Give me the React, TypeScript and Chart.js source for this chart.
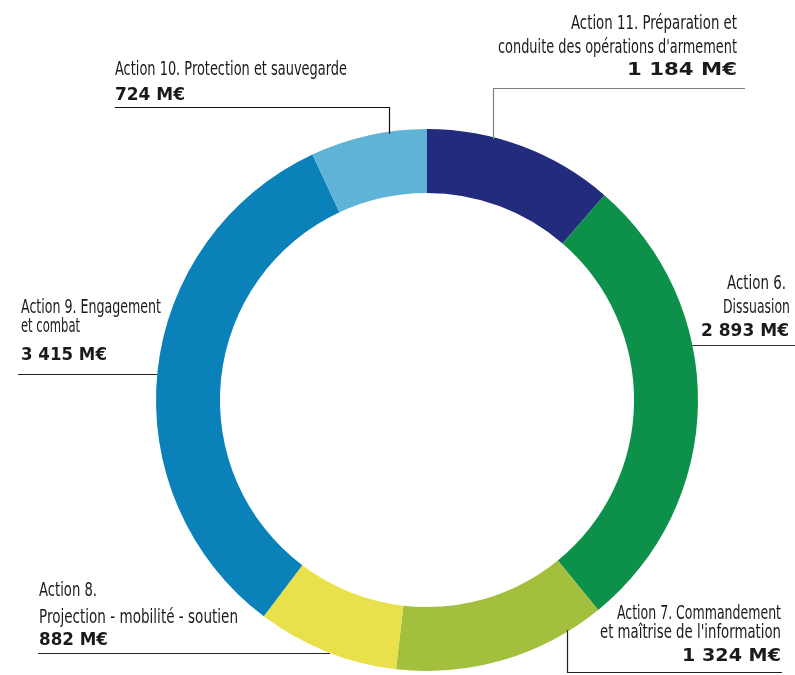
import React, { useEffect, useRef } from "react";
import { Chart, registerables } from "chart.js";

Chart.register(...registerables);

// ---- Data ----
const categories = ["Action 11", "Action 6", "Action 7", "Action 8", "Action 9", "Action 10"];
const titleLines: string[][] = [
  ["Action 11. Préparation et", "conduite des opérations d'armement"],
  ["Action 6.", "Dissuasion"],
  ["Action 7. Commandement", "et maîtrise de l'information"],
  ["Action 8.", "Projection - mobilité - soutien"],
  ["Action 9. Engagement", "et combat"],
  ["Action 10. Protection et sauvegarde"],
];
const values = [1184, 2893, 1324, 882, 3415, 724];
const unit = "M€";
const colors = ["#232B7D", "#0D914A", "#A3BF3E", "#E8E14C", "#0A82B9", "#5FB3D6"];

const fmt = (v: number) => String(v).replace(/\B(?=(\d{3})+(?!\d))/g, " ") + " " + unit;

// ---- Label layout (text boxes: [left, right, baseline]) ----
type Leader =
  | { kind: "top"; xv: number; y: number; x1: number; x2: number; color: string }
  | { kind: "side"; y: number; xOuter: number; side: number; color: string }
  | { kind: "bottom"; xv: number; y: number; x2: number; color: string };

const layouts: { boxes: number[][]; leader: Leader }[] = [
  { boxes: [[571, 737, 29], [498, 737, 53], [627, 737, 75]], leader: { kind: "top", xv: 493, y: 88, x1: 493, x2: 745, color: "#808080" } },
  { boxes: [[727, 786, 289], [723, 790, 313], [701, 789, 336]], leader: { kind: "side", y: 345, xOuter: 795, side: 1, color: "#333" } },
  { boxes: [[617, 781, 619], [600, 781, 638], [682, 781, 661]], leader: { kind: "bottom", xv: 567, y: 672, x2: 782, color: "#222" } },
  { boxes: [[39, 97, 596], [39, 238, 623], [39, 108, 645]], leader: { kind: "side", y: 653, xOuter: 38, side: -1, color: "#222" } },
  { boxes: [[21, 161, 313], [21, 80, 332], [21, 107, 360]], leader: { kind: "side", y: 374, xOuter: 18, side: -1, color: "#222" } },
  { boxes: [[115, 347, 75], [115, 185, 100]], leader: { kind: "top", xv: 389, y: 107, x1: 115, x2: 389, color: "#111" } },
];

const FONT_REG = "19px 'DejaVu Sans Condensed', 'DejaVu Sans', sans-serif";
const FONT_BOLD = "bold 18px 'DejaVu Sans', sans-serif";

function drawFitted(ctx: CanvasRenderingContext2D, text: string, left: number, right: number, base: number, bold: boolean) {
  ctx.font = bold ? FONT_BOLD : FONT_REG;
  const w0 = ctx.measureText(text).width;
  const target = right - left;
  const sx = target / w0;
  ctx.save();
  ctx.translate(left, base);
  ctx.scale(sx, 1);
  ctx.fillText(text, 0, 0);
  ctx.restore();
}

const labelPlugin = {
  id: "leaderLabels",
  afterDraw(chart: any) {
    const ctx: CanvasRenderingContext2D = chart.ctx;
    const arc = chart.getDatasetMeta(0).data[0];
    const cx = arc.x, cy = arc.y, R = arc.outerRadius;
    const ringX = (y: number, side: number) => cx + side * Math.sqrt(Math.max(0, R * R - (y - cy) * (y - cy)));
    const ringY = (x: number, side: number) => cy + side * Math.sqrt(Math.max(0, R * R - (x - cx) * (x - cx)));
    ctx.save();
    ctx.textAlign = "left";
    ctx.textBaseline = "alphabetic";
    ctx.fillStyle = "#1a1a1a";
    layouts.forEach((lay, i) => {
      const texts = [...titleLines[i], fmt(values[i])];
      texts.forEach((t, j) => {
        const b = lay.boxes[j];
        drawFitted(ctx, t, b[0], b[1], b[2], j === texts.length - 1);
      });
      const L = lay.leader;
      ctx.strokeStyle = L.color;
      ctx.lineWidth = 1.2;
      ctx.beginPath();
      if (L.kind === "top") {
        ctx.moveTo(L.x1, L.y + 0.5);
        ctx.lineTo(L.x2, L.y + 0.5);
        ctx.moveTo(L.xv + 0.5, L.y);
        ctx.lineTo(L.xv + 0.5, ringY(L.xv, -1) + 2);
      } else if (L.kind === "side") {
        ctx.moveTo(L.xOuter, L.y + 0.5);
        ctx.lineTo(ringX(L.y, L.side), L.y + 0.5);
      } else {
        ctx.moveTo(L.xv + 0.5, ringY(L.xv, 1) - 2);
        ctx.lineTo(L.xv + 0.5, L.y + 0.5);
        ctx.lineTo(L.x2, L.y + 0.5);
      }
      ctx.stroke();
    });
    ctx.restore();
  },
};

export default function App() {
  const ref = useRef<HTMLCanvasElement | null>(null);
  useEffect(() => {
    if (!ref.current) return;
    const chart = new Chart(ref.current, {
      type: "doughnut",
      data: {
        labels: categories,
        datasets: [
          {
            data: values,
            backgroundColor: colors,
            borderWidth: 0,
            hoverOffset: 0,
          },
        ],
      },
      options: {
        responsive: false,
        animation: false,
        cutout: "76.4%",
        layout: { padding: { left: 156, right: 97, top: 129, bottom: 4 } },
        plugins: { legend: { display: false }, tooltip: { enabled: false } },
      },
      plugins: [labelPlugin],
    });
    return () => chart.destroy();
  }, []);
  return (
    <div style={{ position: "absolute", left: 0, top: 0, width: 795, height: 675, background: "#fff" }}>
      <canvas ref={ref} width={795} height={675} style={{ display: "block" }} />
    </div>
  );
}
